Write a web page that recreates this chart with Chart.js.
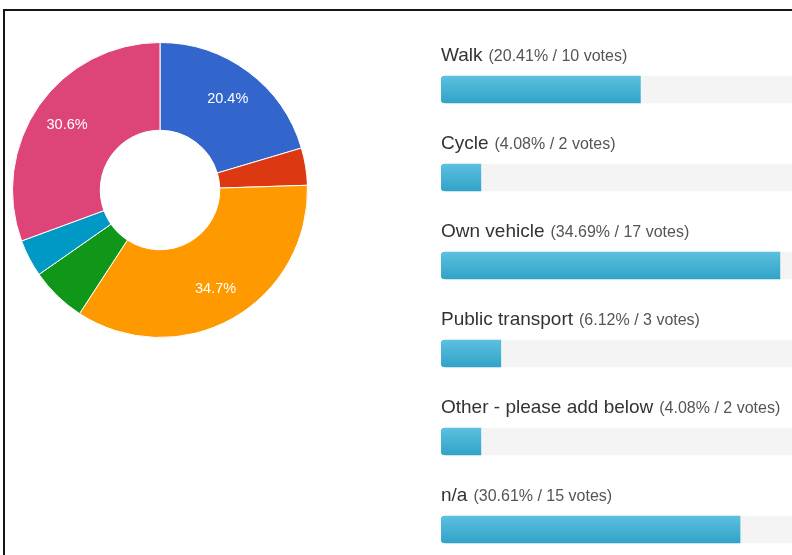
<!DOCTYPE html>
<html lang="en">
  <head>
    <meta charset="UTF-8" />
    <meta name="viewport" content="width=device-width, initial-scale=1.0" />
    <script src="https://cdn.jsdelivr.net/npm/chart.js@4.4.1/dist/chart.umd.min.js"></script>
    <title>Poll results</title>
    <style>
      html, body { margin: 0; padding: 0; background: #fff; }
      body { width: 792px; height: 555px; overflow: hidden; position: relative; }
      #frame {
        position: absolute; left: 3px; top: 9px; width: 2000px; height: 2000px;
        border-top: 2px solid #161616; border-left: 2px solid #161616;
      }
      #pie { position: absolute; left: 12px; top: 42px; }
      #bars { position: absolute; left: 441px; top: 0; }
    </style>
  </head>
  <body>
    <div id="frame"></div>
    <canvas id="pie" width="296" height="296"></canvas>
    <canvas id="bars" width="980" height="620"></canvas>
    <script>
      const labels = ["Walk", "Cycle", "Own vehicle", "Public transport", "Other - please add below", "n/a"];
      const votes = [10, 2, 17, 3, 2, 15];
      const percents = [20.41, 4.08, 34.69, 6.12, 4.08, 30.61];
      const sliceColors = ["#3366CC", "#DC3912", "#FF9900", "#109618", "#0099C6", "#DD4477"];

      // percentage text inside the big slices
      const sliceLabels = {
        id: "sliceLabels",
        afterDatasetsDraw(chart) {
          const ctx = chart.ctx;
          const meta = chart.getDatasetMeta(0);
          ctx.save();
          ctx.fillStyle = "#fff";
          ctx.font = '14.5px "Liberation Sans", Arial, sans-serif';
          ctx.textAlign = "center";
          ctx.textBaseline = "middle";
          meta.data.forEach((arc, i) => {
            if (percents[i] < 10) return;
            const mid = (arc.startAngle + arc.endAngle) / 2;
            const r = arc.innerRadius + 0.61 * (arc.outerRadius - arc.innerRadius);
            const x = arc.x + Math.cos(mid) * r;
            const y = arc.y + Math.sin(mid) * r;
            ctx.fillText(percents[i].toFixed(1) + "%", x, y);
          });
          ctx.restore();
        },
      };

      new Chart(document.getElementById("pie").getContext("2d"), {
        type: "doughnut",
        plugins: [sliceLabels],
        data: {
          labels: labels,
          datasets: [
            {
              data: votes,
              backgroundColor: sliceColors,
              borderColor: "#fff",
              borderWidth: 1,
            },
          ],
        },
        options: {
          responsive: false,
          animation: false,
          events: [],
          cutout: "40.5%",
          layout: { padding: 0 },
          plugins: { legend: { display: false }, tooltip: { enabled: false } },
        },
      });

      // option title + stats written above each bar
      const rowLabels = {
        id: "rowLabels",
        afterDatasetsDraw(chart) {
          const ctx = chart.ctx;
          const yScale = chart.scales.y;
          const left = chart.chartArea.left;
          ctx.save();
          ctx.textBaseline = "alphabetic";
          ctx.textAlign = "left";
          labels.forEach((name, i) => {
            const y = yScale.getPixelForValue(i) - 28.5;
            ctx.font = '19px "Liberation Sans", Arial, sans-serif';
            ctx.fillStyle = "#333";
            ctx.fillText(name, left, y);
            const w = ctx.measureText(name).width;
            ctx.font = '16px "Liberation Sans", Arial, sans-serif';
            ctx.fillStyle = "#555";
            ctx.fillText("(" + percents[i].toFixed(2) + "% / " + votes[i] + " votes)", left + w + 6, y);
          });
          ctx.restore();
        },
      };

      function barFill(context) {
        const chart = context.chart;
        const yScale = chart.scales.y;
        if (!yScale || !chart.chartArea) return "#46b8da";
        const cy = yScale.getPixelForValue(context.dataIndex);
        const g = chart.ctx.createLinearGradient(0, cy - 13.5, 0, cy + 13.5);
        g.addColorStop(0, "#5bc0de");
        g.addColorStop(1, "#31a3c9");
        return g;
      }

      new Chart(document.getElementById("bars").getContext("2d"), {
        type: "bar",
        plugins: [rowLabels],
        data: {
          labels: labels,
          datasets: [
            {
              data: percents,
              backgroundColor: barFill,
              borderRadius: { topLeft: 4, bottomLeft: 4, topRight: 0, bottomRight: 0 },
              borderSkipped: false,
              barThickness: 27,
              grouped: false,
              order: 1,
            },
            {
              data: labels.map(() => 100),
              backgroundColor: "#f4f4f4",
              borderRadius: 4,
              borderSkipped: false,
              barThickness: 27,
              grouped: false,
              order: 2,
            },
          ],
        },
        options: {
          indexAxis: "y",
          responsive: false,
          animation: false,
          events: [],
          layout: { padding: { top: 45.5, bottom: 46.5, left: 0, right: 3 } },
          scales: {
            x: { display: false, min: 0, max: 100 },
            y: { display: false, offset: true },
          },
          plugins: { legend: { display: false }, tooltip: { enabled: false } },
        },
      });
    </script>
  </body>
</html>
